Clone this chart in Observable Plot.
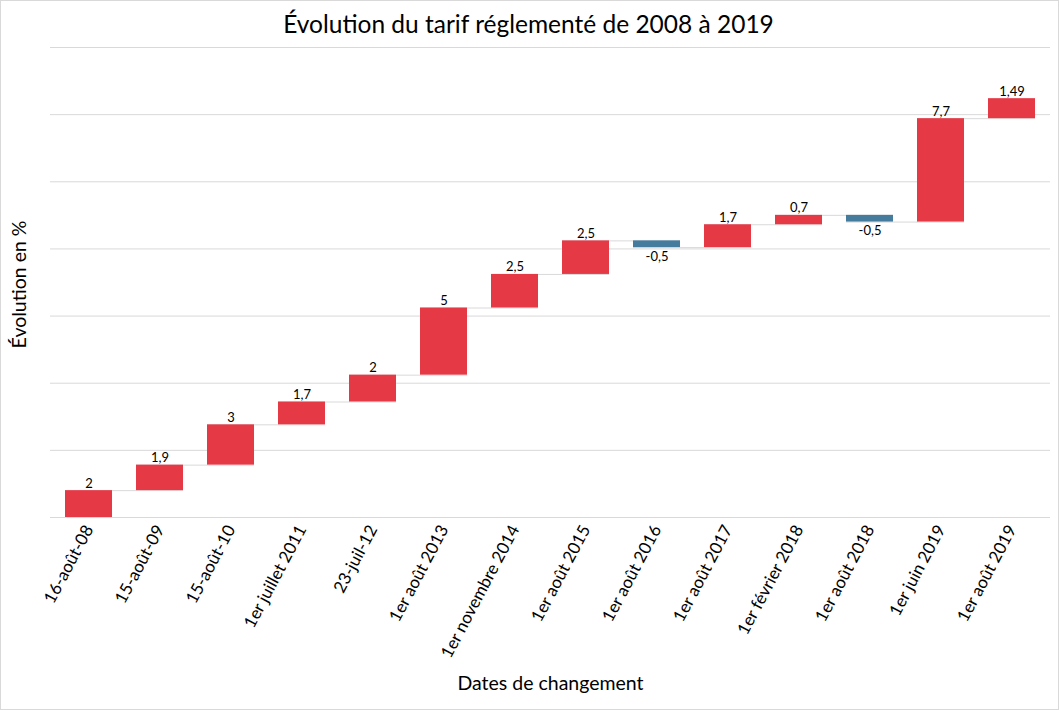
<!DOCTYPE html>
<html>
<head>
<meta charset="utf-8">
<script src="https://cdn.jsdelivr.net/npm/d3@7"></script>
<script src="https://cdn.jsdelivr.net/npm/@observablehq/plot@0.6"></script>
<style>
  html, body { margin: 0; padding: 0; background: #fff; }
  #chart { position: relative; width: 1057px; height: 708px; border: 1px solid #d9d9d9; overflow: hidden; font-family: "Lato", "Open Sans", sans-serif; }
  #title { height: 44px; line-height: 46px; text-align: center; font-size: 24.5px; color: #000; margin-left: -2px; }
  svg { display: block; }
</style>
</head>
<body>
<div id="chart">
  <div id="title">Évolution du tarif réglementé de 2008 à 2019</div>
</div>
<script>
const dates = ["16-août-08", "15-août-09", "15-août-10", "1er juillet 2011", "23-juil-12", "1er août 2013", "1er novembre 2014", "1er août 2015", "1er août 2016", "1er août 2017", "1er février 2018", "1er août 2018", "1er juin 2019", "1er août 2019"];
const changes = [2, 1.9, 3, 1.7, 2, 5, 2.5, 2.5, -0.5, 1.7, 0.7, -0.5, 7.7, 1.49];
const gridTicks = [0, 5, 10, 15, 20, 25, 30, 35];

let acc = 0;
const data = dates.map((date, i) => {
  const start = acc;
  acc += changes[i];
  return {date, v: changes[i], start, end: acc, label: String(changes[i]).replace(".", ",")};
});
const connectors = data.slice(0, -1).map((d, i) => ({a: d.date, b: data[i + 1].date, y: d.end}));

const font = '"Lato", "Open Sans", sans-serif';
const chart = Plot.plot({
  width: 1057,
  height: 664,
  marginLeft: 49,
  marginRight: 8,
  marginTop: 2,
  marginBottom: 192,
  style: {fontFamily: font, background: "#fff", color: "#000", overflow: "visible"},
  x: {domain: dates, paddingInner: 0.34, paddingOuter: 0.17, axis: null},
  y: {domain: [0, 35], axis: null},
  marks: [
    Plot.gridY(gridTicks, {stroke: "#d9d9d9", strokeOpacity: 1}),
    Plot.ruleY(connectors, {x1: "a", x2: "b", y: "y", stroke: "#d9d9d9", strokeWidth: 1}),
    Plot.barY(data, {x: "date", y1: "start", y2: "end", fill: d => d.v >= 0 ? "#e63946" : "#457b9d"}),
    Plot.text(data.filter(d => d.v >= 0), {x: "date", y: "end", text: "label", lineAnchor: "bottom", dy: -3, fontSize: 13, fill: "#000"}),
    Plot.text(data.filter(d => d.v < 0), {x: "date", y: "end", text: "label", lineAnchor: "top", dy: 4, fontSize: 13, fill: "#000"}),
    Plot.axisX({tickRotate: -62, tickSize: 0, tickPadding: 9, fontSize: 17, label: null}),
    Plot.text(["Dates de changement"], {text: d => d, frameAnchor: "bottom", dy: 172, fontSize: 19.5, fill: "#000"}),
    Plot.text(["Évolution en %"], {text: d => d, frameAnchor: "left", textAnchor: "middle", dx: -31, dy: 2, rotate: -90, fontSize: 19.5, fill: "#000"})
  ]
});
document.getElementById("chart").appendChild(chart);
</script>
</body>
</html>
